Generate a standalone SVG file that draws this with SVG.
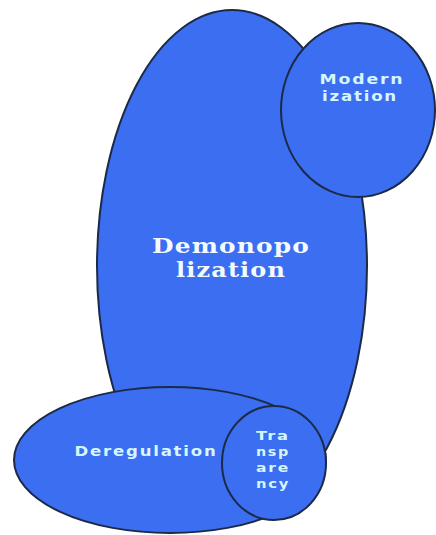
<svg xmlns="http://www.w3.org/2000/svg" width="436" height="535" viewBox="0 0 436 535">
<style>
.shape{fill:#3b6ef0;stroke:#1c2a48;stroke-width:2}
.lbl{fill:#d6f6ff;font-family:"DejaVu Sans","Liberation Sans",sans-serif;font-weight:bold;font-size:14px;text-anchor:middle;letter-spacing:1.5px}
.sm{font-size:13px}
.big{fill:#f4fbff;font-family:"DejaVu Serif","Liberation Serif",serif;font-weight:bold;font-size:21px;text-anchor:middle;letter-spacing:1px}
</style>
<rect width="436" height="535" fill="#ffffff"/>
<g id="demonopolization">
<ellipse class="shape" cx="232" cy="266" rx="135" ry="256"/>
<text class="big" x="231" y="253" textLength="158" lengthAdjust="spacingAndGlyphs">Demonopo</text>
<text class="big" x="231" y="277" textLength="110" lengthAdjust="spacingAndGlyphs">lization</text>
</g>
<g id="modernization">
<ellipse class="shape" cx="358" cy="110" rx="77" ry="87"/>
<text class="lbl" x="362" y="84" textLength="85" lengthAdjust="spacingAndGlyphs">Modern</text>
<text class="lbl" x="360" y="101" textLength="76" lengthAdjust="spacingAndGlyphs">ization</text>
</g>
<g id="deregulation">
<ellipse class="shape" cx="170" cy="460" rx="156" ry="73"/>
<text class="lbl" x="146" y="456" textLength="143" lengthAdjust="spacingAndGlyphs">Deregulation</text>
</g>
<g id="transparency">
<ellipse class="shape" cx="274" cy="463" rx="52" ry="57"/>
<text class="lbl sm" x="273" y="440" textLength="34" lengthAdjust="spacingAndGlyphs">Tra</text>
<text class="lbl sm" x="273" y="456" textLength="34" lengthAdjust="spacingAndGlyphs">nsp</text>
<text class="lbl sm" x="273" y="472" textLength="34" lengthAdjust="spacingAndGlyphs">are</text>
<text class="lbl sm" x="273" y="488" textLength="34" lengthAdjust="spacingAndGlyphs">ncy</text>
</g>
<g id="connectors"></g>
</svg>
